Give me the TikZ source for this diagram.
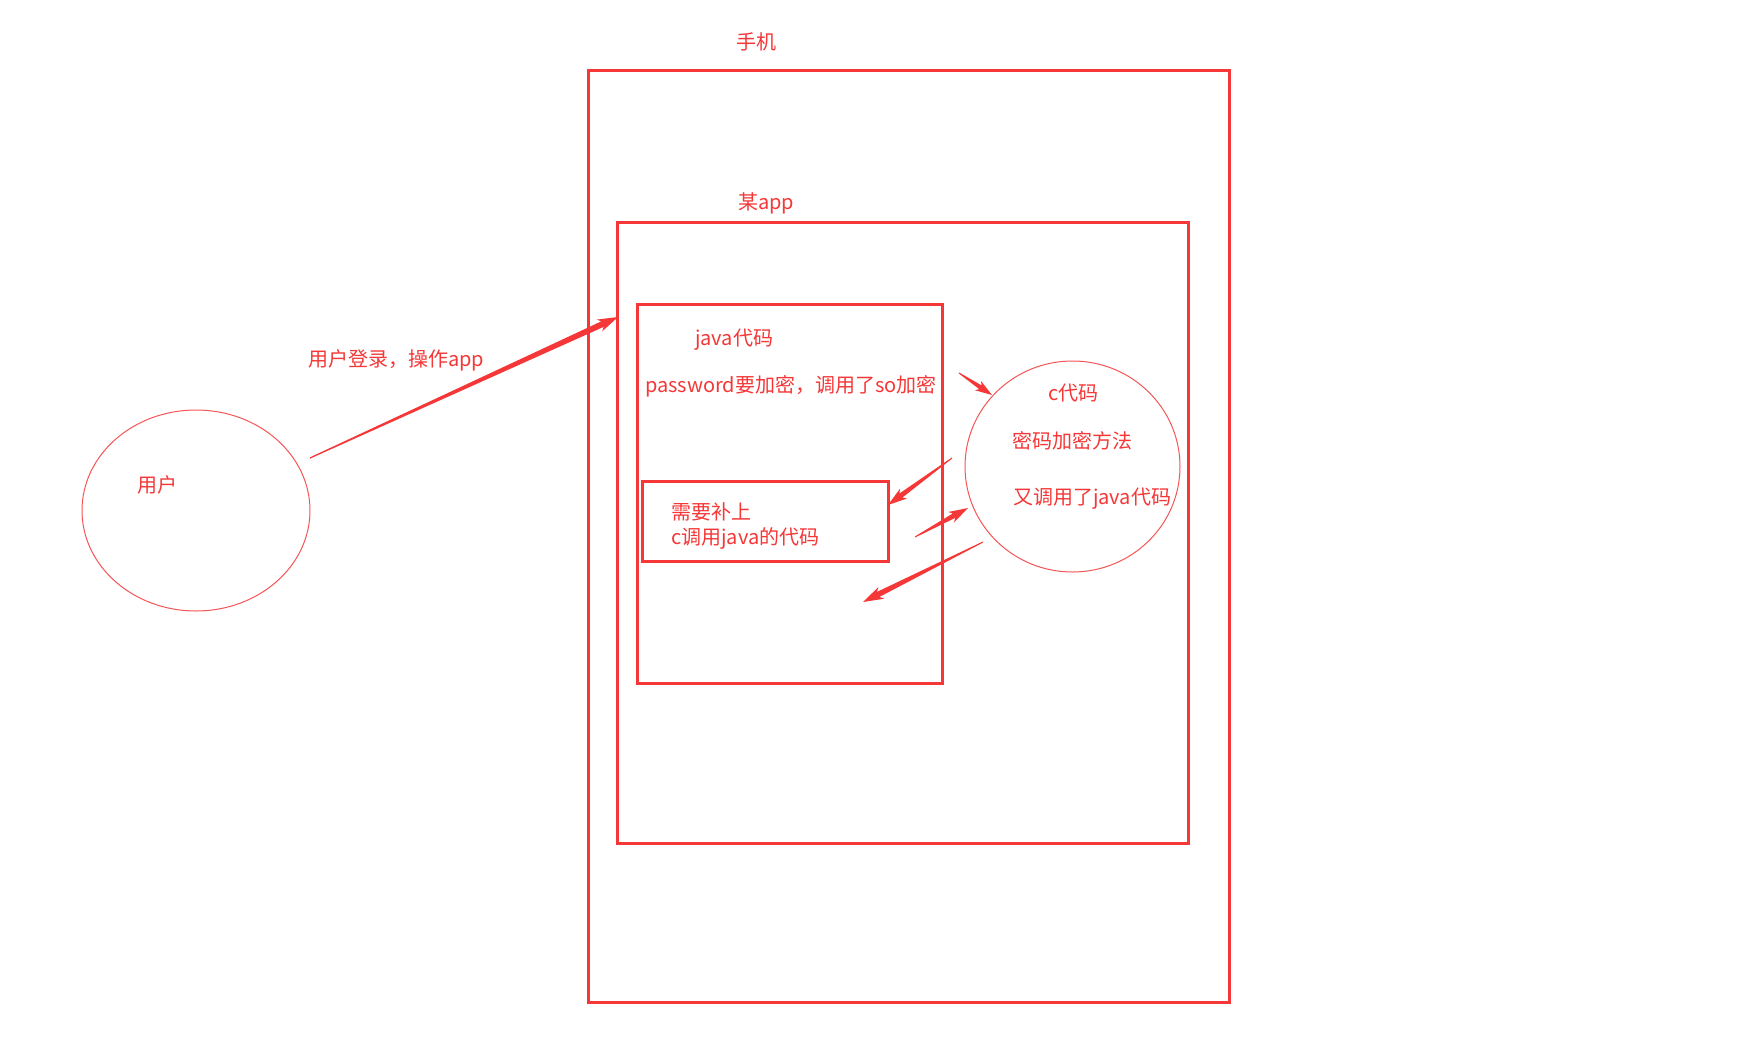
\documentclass[tikz,border=0pt]{standalone}
\usepackage{fontspec}
\setmainfont{Noto Sans CJK SC}
\usetikzlibrary{calc,shapes.geometric}
\definecolor{rd}{RGB}{245,55,55}
\newcommand\tarrow[6]{%
  \coordinate (hb) at ($(#2)!#5!(#1)$);
  \coordinate (wb) at ($(#2)!1.2*#5!(#1)$);
  \fill[rd] ($(#1)!#3!90:(#2)$) -- ($(hb)!#4!90:(#2)$) -- ($(wb)!#6!90:(#2)$) -- (#2)
    -- ($(wb)!#6!-90:(#2)$) -- ($(hb)!#4!-90:(#2)$) -- ($(#1)!#3!-90:(#2)$) -- cycle;}
\tikzset{
  box/.style={draw=rd, line width=3pt, rectangle, inner sep=0pt},
  oval/.style={draw=rd!85, line width=1pt, ellipse, inner sep=0pt},
  lbl/.style={text=rd, font=\fontsize{20pt}{24pt}\selectfont, inner sep=0pt, anchor=base west},
}
\begin{document}
\begin{tikzpicture}[x=1pt,y=-1pt]
\useasboundingbox[fill=white] (0,0) rectangle (1757,1063);
% containers
\node[box, minimum width=641pt, minimum height=932pt] (phone) at (908.5,536.7) {};
\node[box, minimum width=571pt, minimum height=621pt] (app) at (902.5,532.5) {};
\node[box, minimum width=305pt, minimum height=379.5pt] (java) at (789.5,493.8) {};
\node[box, minimum width=246pt, minimum height=80pt] (fix) at (765,521) {};
\node[oval, minimum width=215pt, minimum height=211pt] (cc) at (1072.5,466.5) {};
\node[oval, minimum width=228pt, minimum height=201pt] (user) at (196,510.5) {};
% labels
\node[lbl] (tphone) at (736,49) {手机};
\node[lbl] (tapp) at (738,209.5) {某app};
\node[lbl] (tlogin) at (308,366.5) {用户登录，操作app};
\node[lbl] (tjava) at (695,345.5) {java代码};
\node[lbl] (tpwd) at (645,392.5) {password要加密，调用了so加密};
\node[lbl] (tfix1) at (671,519.5) {需要补上};
\node[lbl] (tfix2) at (671,544.5) {c调用java的代码};
\node[lbl] (tc) at (1048,400.5) {c代码};
\node[lbl] (tenc) at (1012,448.5) {密码加密方法};
\node[lbl] (tcall) at (1013,504.5) {又调用了java代码};
\node[lbl] (tuser) at (137,492.5) {用户};
% arrows
\coordinate (a1s) at (310,458); \coordinate (a1t) at (618,317);
\coordinate (a2s) at (959,373); \coordinate (a2t) at (992,395);
\coordinate (a3s) at (952,458); \coordinate (a3t) at (888,505);
\coordinate (a4s) at (915,537); \coordinate (a4t) at (968,508);
\coordinate (a5s) at (983,542); \coordinate (a5t) at (863,602);
\tarrow{a1s}{a1t}{0.6pt}{3pt}{17pt}{6.5pt}
\tarrow{a2s}{a2t}{0.5pt}{2.2pt}{14pt}{5.5pt}
\tarrow{a3s}{a3t}{0.5pt}{2.5pt}{16pt}{6pt}
\tarrow{a4s}{a4t}{0.5pt}{2.5pt}{16pt}{6pt}
\tarrow{a5s}{a5t}{0.5pt}{2.8pt}{17pt}{6.5pt}
\end{tikzpicture}
\end{document}
